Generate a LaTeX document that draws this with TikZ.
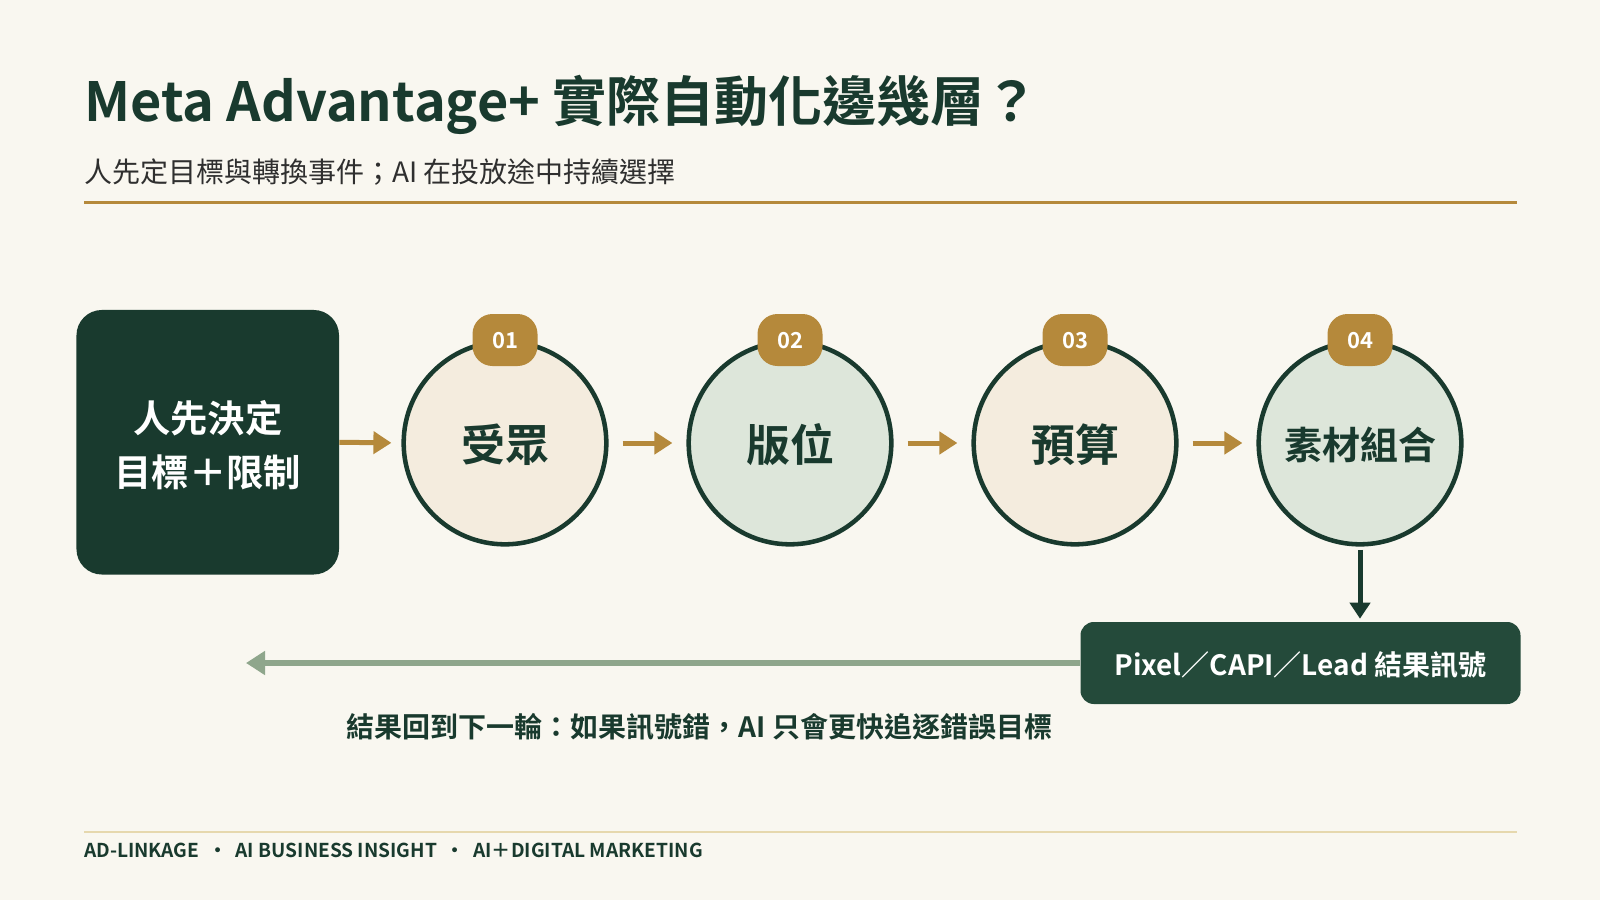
\documentclass[tikz,border=0pt]{standalone}
\usepackage{fontspec}
\setmainfont{Noto Sans CJK TC}[BoldFont={Noto Sans CJK TC Bold}]
\usetikzlibrary{arrows.meta}
\definecolor{bg}{HTML}{F9F7F0}
\definecolor{dkgreen}{HTML}{193A2E}
\definecolor{boxgreen}{HTML}{244A3A}
\definecolor{gold}{HTML}{B5893B}
\definecolor{creamfill}{HTML}{F4ECDE}
\definecolor{greenfill}{HTML}{DDE6DA}
\definecolor{sage}{HTML}{8FA68C}
\definecolor{subgray}{HTML}{2F2F2F}
\definecolor{footrule}{HTML}{E6D8AE}
\newcommand{\lowertext}[2][1.5pt]{\raisebox{-#1}[\height][\depth]{#2}}
\tikzset{
  stepcirc/.style={circle, draw=dkgreen, line width=3.4pt, minimum size=152pt, inner sep=0pt,
    text=dkgreen, font=\bfseries\fontsize{33}{36}\selectfont},
  badge/.style={fill=gold, rounded corners=15pt, minimum width=48.75pt, minimum height=39pt,
    inner sep=0pt, text=white, font=\bfseries\fontsize{16.5}{18}\selectfont},
  garrow/.style={draw=gold, line width=3.75pt, -{Triangle[length=13.5pt,width=16.5pt]}},
  darrow/.style={draw=dkgreen, line width=3.75pt, -{Triangle[length=12pt,width=15pt]}},
  sarrow/.style={draw=sage, line width=4.5pt, -{Triangle[length=14.25pt,width=17.25pt]}},
}
\begin{document}
\begin{tikzpicture}[x=0.75pt,y=-0.75pt]
\fill[bg] (0,0) rectangle (1600,900);
\useasboundingbox (0,0) rectangle (1600,900);

% title
\node[anchor=base west, inner sep=0pt, text=dkgreen, font=\bfseries\fontsize{40.5}{48}\selectfont]
  (title) at (84,121) {Meta Advantage+ 實際自動化邊幾層？};
\node[anchor=base west, inner sep=0pt, text=subgray, font=\fontsize{21}{24}\selectfont]
  (subtitle) at (84,182) {人先定目標與轉換事件；AI 在投放途中持續選擇};
\draw[gold, line width=2.25pt] (84,202) -- (1517,202);

% start box
\node[fill=dkgreen, rounded corners=19pt, minimum width=196.9pt, minimum height=198.4pt,
  text=white, align=center, font=\bfseries\fontsize{28}{40.5}\selectfont]
  (start) at (207.75,442.25) {\lowertext[2.3pt]{人先決定}\\\lowertext[2.3pt]{目標＋限制}};

% circles
\node[stepcirc, fill=creamfill] (c1) at (505,443) {\lowertext{受眾}};
\node[stepcirc, fill=greenfill] (c2) at (790,443) {\lowertext{版位}};
\node[stepcirc, fill=creamfill] (c3) at (1075,443) {\lowertext{預算}};
\node[stepcirc, fill=greenfill, font=\bfseries\fontsize{28.5}{32}\selectfont] (c4) at (1360,443) {\lowertext{素材組合}};

\node[badge] (b1) at (505,340) {\lowertext[0.6pt]{01}};
\node[badge] (b2) at (790,340) {\lowertext[0.6pt]{02}};
\node[badge] (b3) at (1075,340) {\lowertext[0.6pt]{03}};
\node[badge] (b4) at (1360,340) {\lowertext[0.6pt]{04}};

% arrows
\draw[garrow, shorten >=7.5pt] (start.east) -- (c1.west);
\draw[garrow, shorten <=10.5pt, shorten >=10.5pt] (c1.east) -- (c2.west);
\draw[garrow, shorten <=10.5pt, shorten >=10.5pt] (c2.east) -- (c3.west);
\draw[garrow, shorten <=10.5pt, shorten >=10.5pt] (c3.east) -- (c4.west);

% signal box
\node[fill=boxgreen, rounded corners=10pt, minimum width=330pt, minimum height=61.5pt,
  text=white, font=\bfseries\fontsize{21}{24}\selectfont]
  (sig) at (1300.5,663) {\lowertext{Pixel／CAPI／Lead 結果訊號}};
\draw[darrow, shorten <=2.5pt, shorten >=2.25pt] (c4.south) -- (c4.south |- sig.north);

\coordinate (fbend) at (246,663);
\draw[sarrow] (sig.west) -- (fbend);

\node[anchor=base, inner sep=0pt, text=dkgreen, font=\bfseries\fontsize{21}{24}\selectfont]
  (caption) at (699.5,737) {結果回到下一輪：如果訊號錯，AI 只會更快追逐錯誤目標};

% footer
\draw[footrule, line width=1.5pt] (84,832) -- (1517,832);
\node[anchor=base west, inner sep=0pt, text=dkgreen, font=\bfseries\fontsize{14.35}{16}\selectfont]
  (footer) at (84,857) {AD-LINKAGE\hspace{0.45em}•\hspace{0.45em}AI BUSINESS INSIGHT\hspace{0.45em}•\hspace{0.45em}AI＋DIGITAL MARKETING};
\end{tikzpicture}
\end{document}
